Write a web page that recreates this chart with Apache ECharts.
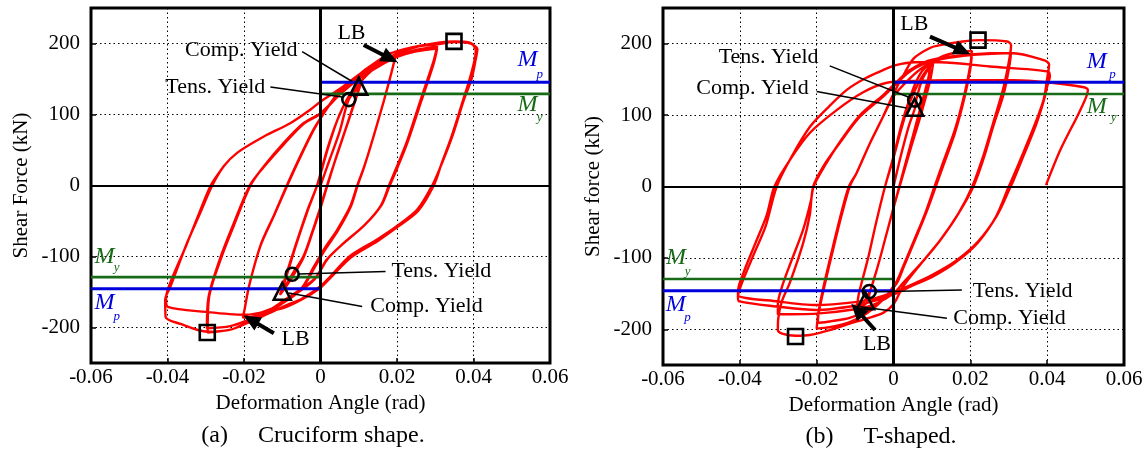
<!DOCTYPE html>
<html>
<head>
<meta charset="utf-8">
<title>Shear force - deformation angle</title>
<script src="https://cdn.jsdelivr.net/npm/echarts@6/dist/echarts.min.js"></script>
<style>
  html, body { margin: 0; padding: 0; background: #fff; }
  #chart { width: 1148px; height: 451px; }
</style>
</head>
<body>
<div id="chart"></div>
<script>
// ---- data: [deformation angle (rad), shear force (kN)] ----

// (a) cruciform shape, one array per amplitude group
const cruciform01 = [
  [0, 0], [0.0025, 38], [0.005, 76], [0.0074, 121], [0.0101, 140], [0.0107, 146],
  [0.009, 118], [0.0065, 78], [0.004, 38], [0.0017, 0], [0, -30], [-0.0022, -66], [-0.0045, -100],
  [-0.0074, -125], [-0.0100, -149], [-0.0106, -154],
  [-0.009, -126], [-0.0065, -84], [-0.0035, -36], [-0.0009, 0], [0.0017, 48], [0.0044, 92],
  [0.007, 122], [0.0095, 140], [0.0106, 147],
  [0.009, 120], [0.0066, 80], [0.0041, 40], [0.0018, 0], [0.0001, -30], [-0.0021, -66],
  [-0.0045, -102], [-0.0075, -130], [-0.0103, -152],
  [-0.0088, -126], [-0.0064, -84], [-0.0034, -36], [-0.0009, 0]
];
const cruciform02 = [
  [0.0017, 50], [0.0044, 92], [0.007, 122], [0.0095, 140], [0.013, 160], [0.016, 172], [0.0196, 182],
  [0.0186, 160], [0.0166, 120], [0.0138, 68], [0.0115, 28], [0.0096, 0], [0.0078, -29], [0.0044, -62],
  [0.0009, -90], [-0.0017, -114], [-0.005, -145], [-0.01, -166], [-0.015, -179], [-0.0187, -186], [-0.0203, -186],
  [-0.02, -179], [-0.0187, -142], [-0.0157, -85], [-0.0122, -43], [-0.0087, 0], [-0.0052, 41], [-0.0017, 79],
  [0.0009, 102], [0.005, 132], [0.01, 155], [0.015, 170], [0.0195, 180],
  [0.0185, 158], [0.0165, 118], [0.0137, 66], [0.0114, 26], [0.0097, 0], [0.0079, -30], [0.0045, -64],
  [0.001, -92], [-0.0016, -116], [-0.005, -146], [-0.01, -166], [-0.015, -178], [-0.0202, -183],
  [-0.0199, -176], [-0.0186, -140], [-0.0156, -83], [-0.0121, -41], [-0.0088, 0]
];
const cruciform03 = [
  [-0.0053, 41], [-0.0018, 79], [0.001, 103], [0.005, 133], [0.01, 156], [0.015, 172], [0.0195, 183],
  [0.025, 191], [0.0305, 196],
  [0.0296, 176], [0.0262, 121], [0.0226, 62], [0.02, 27], [0.0179, 0], [0.0157, -29], [0.0113, -57],
  [0.0061, -81], [0.0017, -104], [-0.0017, -133], [-0.0087, -161], [-0.0139, -180], [-0.0192, -193],
  [-0.0235, -203], [-0.0295, -207],
  [-0.0292, -160], [-0.0261, -104], [-0.0227, -57], [-0.0183, 0], [-0.0148, 27], [-0.0096, 60],
  [-0.0044, 88], [0, 102], [0.005, 128], [0.01, 150], [0.015, 167], [0.02, 181], [0.025, 189], [0.0305, 193],
  [0.0296, 172], [0.0263, 118], [0.0227, 60], [0.0201, 25], [0.0181, 0], [0.0159, -28], [0.0115, -56],
  [0.0063, -80], [0.0019, -103], [-0.0015, -131], [-0.0085, -158], [-0.0138, -177], [-0.0192, -190],
  [-0.0236, -198], [-0.0297, -201],
  [-0.0293, -158], [-0.0262, -102], [-0.0228, -55], [-0.0185, 0]
];
const cruciform04 = [
  [-0.015, 25], [-0.0096, 58], [-0.0044, 87], [0, 101], [0.005, 128], [0.01, 152], [0.015, 170],
  [0.02, 186], [0.025, 195], [0.0305, 199], [0.035, 202], [0.0385, 201], [0.041, 192],
  [0.0406, 178], [0.0395, 150], [0.0375, 121], [0.0345, 70], [0.0315, 28], [0.0292, 0], [0.0253, -34],
  [0.02, -57], [0.0148, -76], [0.0078, -99], [0.0026, -128], [0, -142], [-0.005, -160], [-0.0087, -168],
  [-0.0139, -181], [-0.0192, -194], [-0.0235, -203], [-0.0296, -206], [-0.0366, -195], [-0.0405, -185],
  [-0.0406, -161], [-0.0392, -142], [-0.0349, -81], [-0.0314, -38], [-0.0283, 0], [-0.0253, 27],
  [-0.0218, 46], [-0.0148, 69], [-0.0078, 88], [-0.0026, 107], [0, 118], [0.005, 136], [0.01, 156],
  [0.0122, 165], [0.0183, 186], [0.0261, 197], [0.0349, 203], [0.0392, 201], [0.0406, 190],
  [0.0402, 175], [0.039, 150], [0.0372, 119], [0.0342, 68], [0.0316, 30], [0.0296, 0], [0.0255, -36],
  [0.02, -59], [0.015, -78], [0.008, -101], [0.0026, -130], [0, -144], [-0.005, -161], [-0.01, -173],
  [-0.02, -182], [-0.03, -178], [-0.0399, -171],
  [-0.0404, -160], [-0.0395, -140], [-0.035, -83], [-0.0318, -40], [-0.0287, 0], [-0.026, 22]
];

// (b) T-shaped
const tshape01 = [
  [0, 0], [0.002, 45], [0.004, 85], [0.0056, 110], [0.0059, 121], [0.0075, 150], [0.0095, 168],
  [0.009, 150], [0.0065, 100], [0.004, 50], [0.0015, 0], [0, -30], [-0.002, -70], [-0.004, -110],
  [-0.0061, -147], [-0.007, -163], [-0.0095, -170],
  [-0.009, -150], [-0.0066, -100], [-0.0045, -50], [-0.0022, 0], [0, 40], [0.002, 80], [0.004, 115],
  [0.0065, 145], [0.0085, 162], [0.0103, 172],
  [0.0096, 150], [0.0071, 100], [0.0043, 50], [0.0016, 0], [0, -30], [-0.002, -70], [-0.004, -110],
  [-0.006, -145], [-0.0075, -160], [-0.0095, -168],
  [-0.009, -150], [-0.0066, -100], [-0.0045, -50], [-0.0022, 0]
];
const tshape02 = [
  [0, 42], [0.002, 85], [0.004, 120], [0.006, 148], [0.008, 165], [0.0122, 181], [0.0165, 188], [0.0204, 190],
  [0.02, 170], [0.0185, 130], [0.016, 80], [0.013, 35], [0.0107, 0], [0.0083, -37], [0.0054, -75],
  [0.0025, -112], [0.0006, -135], [-0.003, -160], [-0.007, -178], [-0.0114, -190], [-0.0166, -197], [-0.02, -199],
  [-0.0196, -180], [-0.018, -140], [-0.0158, -90], [-0.0135, -40], [-0.0114, 0], [-0.0096, 19],
  [-0.0061, 61], [-0.0027, 98], [0, 126], [0.004, 150], [0.008, 168], [0.0122, 178], [0.0165, 183], [0.0204, 185],
  [0.02, 165], [0.0185, 125], [0.016, 75], [0.013, 30], [0.011, 0], [0.0085, -37], [0.0056, -75],
  [0.0027, -112], [0.0008, -136], [-0.003, -158], [-0.007, -174], [-0.0114, -184], [-0.0166, -189], [-0.0197, -191],
  [-0.0194, -172], [-0.018, -135], [-0.0158, -85], [-0.0135, -35], [-0.0116, 0]
];
const tshape03 = [
  [-0.0096, 19], [-0.0061, 61], [-0.0027, 98], [0, 130], [0.003, 160], [0.0054, 180], [0.0095, 194],
  [0.0122, 198], [0.018, 203], [0.0225, 205], [0.0296, 203], [0.0306, 198],
  [0.0302, 180], [0.0287, 140], [0.026, 90], [0.0235, 45], [0.0205, 0], [0.017, -37], [0.0122, -75],
  [0.0073, -107], [0.0025, -140], [0, -165], [-0.0027, -177], [-0.007, -185], [-0.0114, -192],
  [-0.0166, -201], [-0.0218, -208], [-0.0255, -209], [-0.029, -206], [-0.0301, -201],
  [-0.03, -185], [-0.029, -160], [-0.027, -135], [-0.0235, -79], [-0.0218, -40], [-0.0209, 0],
  [-0.0183, 28], [-0.014, 61], [-0.0087, 98], [-0.0027, 126], [0, 140], [0.004, 160], [0.008, 172],
  [0.0122, 178], [0.02, 184], [0.0306, 187],
  [0.0302, 170], [0.0287, 130], [0.026, 85], [0.0235, 40], [0.0208, 0], [0.017, -37], [0.0122, -75],
  [0.0073, -107], [0.0025, -135], [0, -150], [-0.005, -165], [-0.01, -172], [-0.02, -178], [-0.0301, -179],
  [-0.0301, -165], [-0.029, -140], [-0.027, -110], [-0.0235, -60], [-0.0215, -20], [-0.0208, 0]
];
const tshape04 = [
  [-0.018, 28], [-0.014, 62], [-0.0087, 100], [-0.0027, 128], [0, 142], [0.004, 162], [0.008, 174],
  [0.0122, 180], [0.02, 185], [0.0306, 187], [0.0391, 177], [0.0405, 171],
  [0.0401, 155], [0.0391, 122], [0.037, 90], [0.034, 50], [0.031, 12], [0.030, 0], [0.0267, -42],
  [0.0219, -79], [0.016, -107], [0.0103, -126], [0.0045, -140], [0.0006, -150], [-0.005, -160],
  [-0.01, -167], [-0.02, -173], [-0.0305, -168], [-0.0401, -161], [-0.0405, -155],
  [-0.0398, -140], [-0.0362, -93], [-0.0333, -56], [-0.0304, 0], [-0.0265, 42], [-0.0217, 84],
  [-0.0168, 112], [-0.012, 136], [-0.0072, 152], [-0.0023, 164], [0.0006, 170], [0.0054, 174],
  [0.0122, 174], [0.025, 168], [0.0402, 161], [0.0407, 154],
  [0.04, 140], [0.0391, 120], [0.037, 85], [0.034, 45], [0.0312, 8], [0.0305, 0], [0.027, -40],
  [0.022, -77], [0.016, -105], [0.010, -124], [0.0045, -138], [0, -148], [-0.005, -157], [-0.01, -162],
  [-0.02, -166], [-0.03, -161], [-0.0405, -152],
  [-0.0403, -140], [-0.039, -120], [-0.036, -80], [-0.033, -40], [-0.031, 0]
];
const tshape05 = [
  [-0.027, 37], [-0.0218, 75], [-0.0148, 107], [-0.0079, 132], [-0.002, 145], [0.005, 148], [0.015, 149],
  [0.0315, 149], [0.04, 146], [0.0496, 139], [0.0506, 135],
  [0.0487, 108], [0.0435, 52], [0.0397, 2]
];

// plastic / yield shear (kN)
const mpA = 145.5, myA = 129;
const mpB = 146, myB = 129.5;

// marked events
const squaresA = [[0.0349, 203], [-0.0296, -207]];
const circlesA = [[0.0074, 121], [-0.0074, -125]];
const trianglesA = [[0.0100, 140], [-0.0100, -149]];
const squaresB = [[0.022, 205], [-0.0255, -210]];
const circlesB = [[0.0055, 121], [-0.0063, -147]];
const trianglesB = [[0.0055, 111], [-0.0073, -160]];

const xMin = -0.06, xMax = 0.06, xStep = 0.02;
const yMin = -250, yMax = 250;

// ---- styles ----
const FONT = 'Liberation Serif';
const RED = '#ff0000';
const BLUE = '#0000dd';
const GREEN = '#176b17';

// annotation layout in data units
const notesA = [
  ['LB', 0.0081, 215], ['Comp. Yield', -0.0207, 190], ['Tens. Yield', -0.0275, 139],
  ['Tens. Yield', 0.0316, -121], ['Comp. Yield', 0.0277, -170], ['LB', -0.0065, -216]
];
const leadersA = [
  [[-0.0048, 188.7], [0.0083, 146.5]], [[-0.0131, 138.6], [0.0057, 124.5]],
  [[0.017, -121], [-0.0058, -124.8]], [[0.0109, -170.4], [-0.0083, -151.5]]
];
const arrowsA = [[[0.0113, 198], [0.0182, 179]], [[-0.0122, -208], [-0.0182, -189]]];
const mLabelsA = [
  ['M', BLUE, 0.0541, 177, 24], ['p', BLUE, 0.0573, 156, 13],
  ['M', GREEN, 0.0541, 114, 24], ['y', GREEN, 0.0573, 95, 13],
  ['M', GREEN, -0.0565, -100, 24], ['y', GREEN, -0.0533, -116, 13],
  ['M', BLUE, -0.0565, -165, 24], ['p', BLUE, -0.0533, -184, 13]
];

const notesB = [
  ['LB', 0.0054, 227], ['Tens. Yield', -0.0325, 181], ['Comp. Yield', -0.0367, 137],
  ['Tens. Yield', 0.0336, -147], ['Comp. Yield', 0.0302, -185], ['LB', -0.0043, -221]
];
const leadersB = [
  [[-0.0166, 169], [0.0045, 124]], [[-0.02, 133], [0.0034, 110]],
  [[0.0178, -144.9], [-0.0048, -147.3]], [[0.0139, -184.6], [-0.0087, -168.3]]
];
const arrowsB = [[[0.0095, 210], [0.0180, 190]], [[-0.0048, -201], [-0.0095, -173]]];
const mLabelsB = [
  ['M', BLUE, 0.0529, 175, 24], ['p', BLUE, 0.057, 157, 13],
  ['M', GREEN, 0.0529, 112, 24], ['y', GREEN, 0.0573, 96, 13],
  ['M', GREEN, -0.0566, -100, 24], ['y', GREEN, -0.0536, -119, 13],
  ['M', BLUE, -0.0567, -166, 24], ['p', BLUE, -0.0536, -184, 13]
];

function xAxisFor(i) {
  return {
    type: 'value', gridIndex: i, min: xMin, max: xMax, interval: xStep,
    name: 'Deformation Angle (rad)', nameLocation: 'middle', nameGap: 27,
    nameTextStyle: { fontFamily: FONT, fontSize: 21, color: '#000' },
    axisLine: { show: false, onZero: false },
    axisTick: { show: true, inside: true, length: 5, lineStyle: { color: '#000', width: 1.5 } },
    axisLabel: { fontFamily: FONT, fontSize: 21, color: '#000', margin: 4 },
    splitLine: { show: true, lineStyle: { color: '#000', width: 1, type: [1.5, 3] } }
  };
}

function yAxisFor(i, name) {
  return {
    type: 'value', gridIndex: i, min: yMin, max: yMax, splitNumber: 5,
    name: name, nameLocation: 'middle', nameGap: 59,
    nameTextStyle: { fontFamily: FONT, fontSize: 21, color: '#000' },
    axisLine: { show: false, onZero: false },
    axisTick: { show: true, inside: true, length: 5, lineStyle: { color: '#000', width: 1.5 } },
    axisLabel: { fontFamily: FONT, fontSize: 21, color: '#000', margin: 11, showMinLabel: false, showMaxLabel: false },
    splitLine: { show: true, lineStyle: { color: '#000', width: 1, type: [1.5, 3] } }
  };
}

function hLine(i, y, x0, x1, color, width) {
  return {
    type: 'line', xAxisIndex: i, yAxisIndex: i, data: [[x0, y], [x1, y]],
    showSymbol: false, silent: true, z: 4,
    lineStyle: { color: color, width: width }
  };
}

function markerSeries(i, pts, symbol, size) {
  return {
    type: 'scatter', xAxisIndex: i, yAxisIndex: i, data: pts, symbol: symbol, symbolSize: size,
    silent: true, z: 8,
    itemStyle: { color: 'rgba(0,0,0,0)', borderColor: '#000', borderWidth: 2.6, opacity: 1 }
  };
}

// text placed at data coordinates (scatter without a symbol)
function textSeries(i, items, labelStyle) {
  return {
    type: 'scatter', xAxisIndex: i, yAxisIndex: i, symbolSize: 0, silent: true, z: 9,
    itemStyle: { opacity: 1 },
    data: items,
    label: Object.assign({ show: true, position: 'inside', fontFamily: FONT, opacity: 1 }, labelStyle)
  };
}

function panelSeries(i, paths, mp, my, squares, circles, triangles, notes, leaders, arrows, mLabels) {
  const list = [];
  list.push({
    type: 'line', xAxisIndex: i, yAxisIndex: i, data: [].concat.apply([], paths),
    showSymbol: false, smooth: 0.3, silent: true, z: 3,
    lineStyle: { color: RED, width: 2.4 }
  });
  list.push(hLine(i, mp, 0, xMax, BLUE, 3));
  list.push(hLine(i, my, 0, xMax, GREEN, 2.6));
  list.push(hLine(i, -my, xMin, 0, GREEN, 2.6));
  list.push(hLine(i, -mp, xMin, 0, BLUE, 3));

  const lines = [
    { xAxis: 0, lineStyle: { color: '#000', width: 3, type: 'solid' } },
    { yAxis: 0, lineStyle: { color: '#000', width: 2, type: 'solid' } }
  ];
  leaders.forEach(function (l) {
    const st = { color: '#000', width: 1.5, type: 'solid' };
    lines.push([{ coord: l[0], lineStyle: st }, { coord: l[1], lineStyle: st }]);
  });
  arrows.forEach(function (a) {
    const st = { color: '#000', width: 4, type: 'solid' };
    lines.push([{ coord: a[0], lineStyle: st, symbol: 'none' },
                { coord: a[1], lineStyle: st, symbol: 'triangle', symbolSize: [15, 17] }]);
  });

  const sq = markerSeries(i, squares, 'rect', 15);
  sq.markLine = {
    silent: true, animation: false, symbol: ['none', 'none'], label: { show: false },
    data: lines
  };
  list.push(sq);
  list.push(markerSeries(i, circles, 'circle', 13));
  list.push(markerSeries(i, triangles, 'triangle', 17));

  list.push(textSeries(i,
    notes.map(function (n) { return { value: [n[1], n[2]], label: { formatter: n[0] } }; }),
    { fontSize: 22, color: '#000' }));
  list.push(textSeries(i,
    mLabels.map(function (m) {
      return { value: [m[2], m[3]], label: { formatter: m[0], color: m[1], fontSize: m[4] } };
    }),
    { fontStyle: 'italic' }));
  return list;
}

const chart = echarts.init(document.getElementById('chart'), null, { renderer: 'canvas' });

chart.setOption({
  animation: false,
  backgroundColor: '#fff',
  grid: [
    { left: 91, top: 8, width: 459, height: 355, show: true, borderColor: '#000', borderWidth: 3, backgroundColor: '#fff' },
    { left: 663, top: 8, width: 461, height: 357, show: true, borderColor: '#000', borderWidth: 3, backgroundColor: '#fff' }
  ],
  xAxis: [xAxisFor(0), xAxisFor(1)],
  yAxis: [yAxisFor(0, 'Shear Force (kN)'), yAxisFor(1, 'Shear force (kN)')],
  graphic: [
    { type: 'text', x: 313, y: 436, style: { text: '(a)     Cruciform shape.', font: '24px "Liberation Serif"', fill: '#000', textAlign: 'center', textVerticalAlign: 'middle' } },
    { type: 'text', x: 881, y: 437, style: { text: '(b)     T-shaped.', font: '24px "Liberation Serif"', fill: '#000', textAlign: 'center', textVerticalAlign: 'middle' } }
  ],
  series: [].concat(
    panelSeries(0, [cruciform01, cruciform02, cruciform03, cruciform04], mpA, myA,
      squaresA, circlesA, trianglesA, notesA, leadersA, arrowsA, mLabelsA),
    panelSeries(1, [tshape01, tshape02, tshape03, tshape04, tshape05], mpB, myB,
      squaresB, circlesB, trianglesB, notesB, leadersB, arrowsB, mLabelsB)
  )
});
</script>
</body>
</html>
